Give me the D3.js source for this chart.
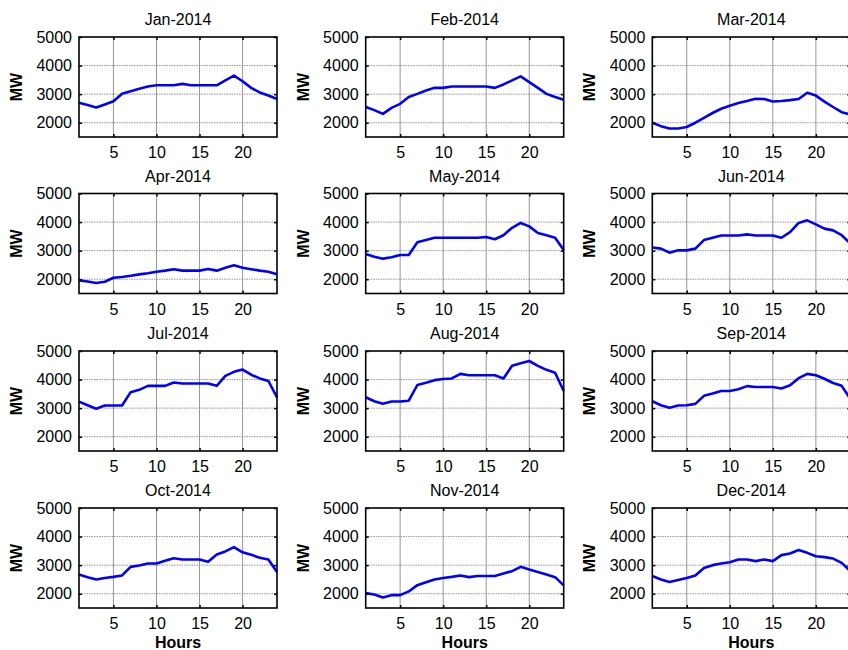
<!DOCTYPE html>
<html>
<head>
<meta charset="utf-8">
<script src="https://cdn.jsdelivr.net/npm/d3@7"></script>
<style>
  body { margin: 0; background: #fff; }
  svg { display: block; font-family: "Liberation Sans", Arial, sans-serif; }
</style>
</head>
<body>
<svg id="chart" width="848" height="650"></svg>
<script>
const hours = d3.range(1, 25);
const months = ["Jan-2014", "Feb-2014", "Mar-2014", "Apr-2014", "May-2014", "Jun-2014",
  "Jul-2014", "Aug-2014", "Sep-2014", "Oct-2014", "Nov-2014", "Dec-2014"];
const xTicks = [5, 10, 15, 20];
const yTicks = [2000, 3000, 4000, 5000];

const jan = [2700, 2620, 2530, 2640, 2750, 3010, 3100, 3190, 3270, 3310, 3310, 3310, 3360, 3310, 3310, 3310, 3310, 3480, 3650, 3450, 3220, 3060, 2950, 2830];
const feb = [2550, 2440, 2310, 2520, 2660, 2900, 3010, 3130, 3220, 3220, 3270, 3270, 3270, 3270, 3270, 3220, 3340, 3480, 3620, 3420, 3220, 3010, 2900, 2800];
const mar = [2000, 1880, 1800, 1800, 1850, 2000, 2170, 2340, 2490, 2590, 2690, 2760, 2840, 2830, 2740, 2760, 2790, 2830, 3050, 2950, 2740, 2550, 2370, 2290];
const apr = [1960, 1920, 1870, 1910, 2050, 2080, 2120, 2170, 2210, 2260, 2300, 2350, 2300, 2300, 2300, 2360, 2300, 2400, 2490, 2400, 2350, 2300, 2260, 2170];
const may = [2880, 2790, 2720, 2770, 2850, 2850, 3290, 3370, 3450, 3450, 3450, 3450, 3450, 3450, 3480, 3400, 3540, 3800, 3970, 3850, 3620, 3540, 3450, 3020];
const jun = [3110, 3070, 2930, 3010, 3010, 3070, 3370, 3450, 3530, 3530, 3530, 3570, 3530, 3530, 3530, 3450, 3650, 3970, 4060, 3920, 3770, 3710, 3540, 3250];
const jul = [3230, 3100, 2980, 3090, 3090, 3090, 3560, 3640, 3780, 3780, 3780, 3900, 3860, 3860, 3860, 3860, 3780, 4130, 4270, 4350, 4170, 4040, 3950, 3380];
const aug = [3380, 3240, 3150, 3230, 3230, 3260, 3810, 3890, 3980, 4020, 4040, 4200, 4150, 4150, 4150, 4150, 4040, 4480, 4570, 4650, 4480, 4340, 4240, 3600];
const sep = [3240, 3100, 3010, 3090, 3100, 3150, 3430, 3510, 3600, 3600, 3660, 3770, 3740, 3740, 3740, 3690, 3800, 4050, 4200, 4150, 4030, 3880, 3780, 3320];
const oct = [2670, 2580, 2500, 2550, 2590, 2640, 2940, 2990, 3060, 3060, 3150, 3240, 3200, 3200, 3200, 3120, 3370, 3480, 3630, 3450, 3360, 3260, 3200, 2760];
const nov = [2020, 1970, 1870, 1950, 1950, 2080, 2300, 2400, 2500, 2550, 2590, 2640, 2580, 2620, 2620, 2620, 2710, 2790, 2940, 2850, 2760, 2670, 2580, 2290];
const dec = [2620, 2500, 2410, 2480, 2550, 2640, 2900, 3000, 3060, 3100, 3200, 3200, 3140, 3200, 3140, 3350, 3410, 3530, 3430, 3310, 3280, 3230, 3080, 2790];
const loads = [jan, feb, mar, apr, may, jun, jul, aug, sep, oct, nov, dec];

const colLefts = [79, 365.7, 652.3];
const rowTops = [37, 193.5, 351, 508];
const plotW = 198;
const plotH = 100;

const svg = d3.select("#chart");

const x = d3.scaleLinear().domain([1, 24]).range([0, plotW]);
const y = d3.scaleLinear().domain([1500, 5000]).range([plotH, 0]);

const line = d3.line()
  .x((d, i) => x(hours[i]))
  .y((d) => y(d));

months.forEach((name, idx) => {
  const col = idx % 3;
  const row = Math.floor(idx / 3);
  const g = svg.append("g")
    .attr("transform", `translate(${colLefts[col]},${rowTops[row]})`);

  // grid
  g.append("g")
    .selectAll("line")
    .data(xTicks)
    .join("line")
    .attr("x1", (d) => x(d)).attr("x2", (d) => x(d))
    .attr("y1", 0).attr("y2", plotH)
    .attr("stroke", "#8a8a8a")
    .attr("stroke-width", 0.9);
  g.append("g")
    .selectAll("line")
    .data(yTicks.filter((d) => d < 5000))
    .join("line")
    .attr("x1", 0).attr("x2", plotW)
    .attr("y1", (d) => y(d)).attr("y2", (d) => y(d))
    .attr("stroke", "#8a8a8a")
    .attr("stroke-width", 0.9)
    .attr("stroke-dasharray", "1.5,1");

  // load curve
  g.append("path")
    .datum(loads[idx])
    .attr("fill", "none")
    .attr("stroke", "#0000ff")
    .attr("stroke-width", 2.6)
    .attr("stroke-linejoin", "round")
    .attr("d", line);

  // axes (ticks inside, box style)
  const xAxisG = g.append("g")
    .attr("transform", `translate(0,${plotH})`)
    .call(d3.axisBottom(x).tickValues(xTicks).tickFormat(d3.format("d")).tickSize(-3).tickPadding(10));
  const yAxisG = g.append("g")
    .call(d3.axisLeft(y).tickValues(yTicks).tickFormat(d3.format("d")).tickSize(-3).tickPadding(7));
  const topG = g.append("g")
    .call(d3.axisTop(x).tickValues(xTicks).tickSize(-3).tickFormat(""));
  const rightG = g.append("g")
    .attr("transform", `translate(${plotW},0)`)
    .call(d3.axisRight(y).tickValues(yTicks).tickSize(-3).tickFormat(""));
  [xAxisG, yAxisG, topG, rightG].forEach((a) => {
    a.select(".domain").remove();
    a.selectAll(".tick line").attr("stroke", "#000").attr("stroke-width", 1.5);
    a.selectAll(".tick text")
      .style("font-size", "16px")
      .style("font-family", "'Liberation Sans', Arial, sans-serif")
      .attr("fill", "#000");
  });

  g.append("rect")
    .attr("width", plotW)
    .attr("height", plotH)
    .attr("fill", "none")
    .attr("stroke", "#000")
    .attr("stroke-width", 1.6);

  g.append("text")
    .attr("x", plotW / 2)
    .attr("y", -12)
    .attr("text-anchor", "middle")
    .style("font-size", "16px")
    .text(name);

  g.append("text")
    .attr("transform", `translate(-57,${plotH / 2}) rotate(-90)`)
    .attr("text-anchor", "middle")
    .style("font-size", "16px")
    .style("font-weight", "bold")
    .text("MW");

  if (row === 3) {
    g.append("text")
      .attr("x", plotW / 2)
      .attr("y", plotH + 40)
      .attr("text-anchor", "middle")
      .style("font-size", "16px")
      .style("font-weight", "bold")
      .text("Hours");
  }
});
</script>
</body>
</html>
